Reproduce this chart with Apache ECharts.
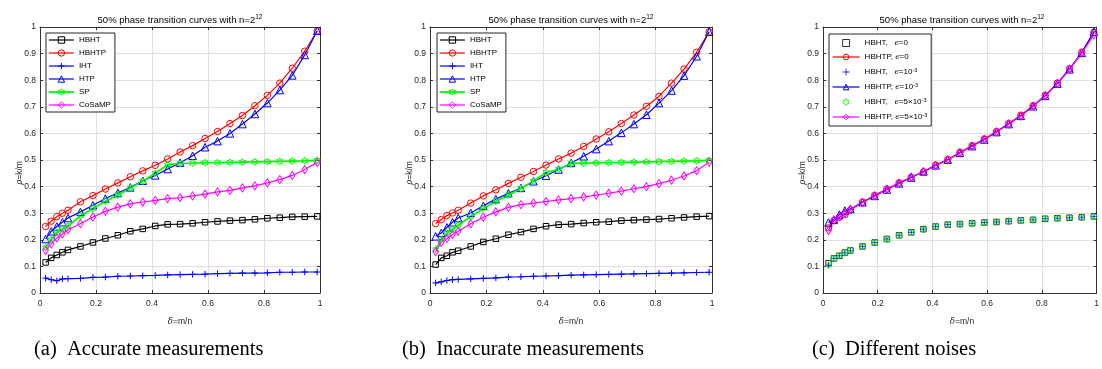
<!DOCTYPE html>
<html>
<head>
<meta charset="utf-8">
<script src="https://cdn.jsdelivr.net/npm/echarts@6/dist/echarts.min.js"></script>
<style>
  html, body { margin: 0; padding: 0; background: #fff; }
  #chart { width: 1102px; height: 369px; }
</style>
</head>
<body>
<div id="chart"></div>
<script>
// Undersampling ratio delta = m/n at which each phase transition was measured
const delta = [0.02, 0.04, 0.06, 0.08, 0.1, 0.1445, 0.189, 0.2335, 0.278, 0.3225, 0.367, 0.4115, 0.456,
  0.5005, 0.545, 0.5895, 0.634, 0.6785, 0.723, 0.7675, 0.812, 0.8565, 0.901, 0.9455, 0.99];

// (a) accurate measurements: rho = k/m on the 50% success curve
const accHBHT   = [0.115, 0.132, 0.143, 0.153, 0.162, 0.175, 0.19, 0.205, 0.217, 0.232, 0.241, 0.252, 0.258, 0.259, 0.262, 0.266, 0.269, 0.272, 0.274, 0.277, 0.281, 0.283, 0.286, 0.287, 0.288];
const accHBHTP  = [0.25, 0.27, 0.287, 0.3, 0.311, 0.343, 0.366, 0.391, 0.414, 0.437, 0.459, 0.48, 0.504, 0.53, 0.554, 0.581, 0.607, 0.637, 0.667, 0.704, 0.743, 0.789, 0.845, 0.909, 0.985];
const accIHT    = [0.056, 0.05, 0.046, 0.053, 0.054, 0.055, 0.059, 0.06, 0.063, 0.064, 0.065, 0.066, 0.068, 0.069, 0.07, 0.071, 0.073, 0.074, 0.075, 0.075, 0.076, 0.078, 0.078, 0.079, 0.079];
const accHTP    = [0.203, 0.232, 0.25, 0.266, 0.282, 0.305, 0.33, 0.355, 0.376, 0.397, 0.422, 0.442, 0.466, 0.49, 0.516, 0.548, 0.571, 0.6, 0.635, 0.673, 0.714, 0.763, 0.818, 0.895, 0.986];
const accSP     = [0.17, 0.2, 0.228, 0.24, 0.252, 0.29, 0.318, 0.345, 0.368, 0.395, 0.42, 0.45, 0.482, 0.487, 0.488, 0.49, 0.49, 0.491, 0.492, 0.493, 0.494, 0.495, 0.496, 0.497, 0.499];
const accCoSaMP = [0.16, 0.184, 0.207, 0.222, 0.238, 0.261, 0.286, 0.307, 0.323, 0.335, 0.342, 0.348, 0.355, 0.358, 0.365, 0.372, 0.38, 0.386, 0.395, 0.403, 0.414, 0.426, 0.442, 0.464, 0.491];

// (b) inaccurate measurements
const inaHBHT   = [0.107, 0.132, 0.14, 0.153, 0.159, 0.175, 0.192, 0.204, 0.219, 0.229, 0.241, 0.251, 0.257, 0.259, 0.263, 0.266, 0.268, 0.272, 0.274, 0.276, 0.278, 0.281, 0.284, 0.287, 0.289];
const inaHBHTP  = [0.261, 0.276, 0.291, 0.301, 0.311, 0.338, 0.365, 0.388, 0.412, 0.435, 0.457, 0.481, 0.504, 0.526, 0.551, 0.579, 0.606, 0.637, 0.669, 0.702, 0.739, 0.789, 0.842, 0.905, 0.982];
const inaIHT    = [0.038, 0.042, 0.047, 0.05, 0.051, 0.053, 0.055, 0.057, 0.06, 0.061, 0.063, 0.064, 0.065, 0.067, 0.068, 0.069, 0.07, 0.071, 0.072, 0.073, 0.074, 0.075, 0.076, 0.077, 0.078];
const inaHTP    = [0.213, 0.226, 0.247, 0.266, 0.282, 0.301, 0.328, 0.353, 0.375, 0.395, 0.42, 0.441, 0.464, 0.489, 0.514, 0.541, 0.571, 0.602, 0.635, 0.67, 0.714, 0.761, 0.817, 0.89, 0.982];
const inaSP     = [0.163, 0.2, 0.225, 0.24, 0.255, 0.288, 0.318, 0.345, 0.368, 0.393, 0.42, 0.453, 0.465, 0.487, 0.488, 0.489, 0.49, 0.491, 0.492, 0.493, 0.494, 0.495, 0.496, 0.497, 0.499];
const inaCoSaMP = [0.155, 0.19, 0.205, 0.22, 0.232, 0.26, 0.285, 0.305, 0.322, 0.332, 0.338, 0.344, 0.35, 0.355, 0.361, 0.368, 0.375, 0.383, 0.392, 0.4, 0.411, 0.424, 0.44, 0.46, 0.492];

// (c) different noise levels epsilon = 0, 1e-3, 5e-3
const nzHBHT0  = [0.112, 0.13, 0.14, 0.152, 0.16, 0.175, 0.19, 0.203, 0.217, 0.228, 0.24, 0.25, 0.257, 0.259, 0.262, 0.265, 0.267, 0.27, 0.273, 0.275, 0.279, 0.281, 0.283, 0.285, 0.288];
const nzHBHT1  = [0.105, 0.13, 0.14, 0.151, 0.159, 0.175, 0.19, 0.203, 0.217, 0.228, 0.24, 0.25, 0.257, 0.259, 0.262, 0.265, 0.267, 0.27, 0.273, 0.275, 0.279, 0.281, 0.283, 0.285, 0.288];
const nzHBHT5  = [0.105, 0.129, 0.14, 0.151, 0.16, 0.175, 0.19, 0.202, 0.216, 0.228, 0.24, 0.25, 0.257, 0.259, 0.262, 0.265, 0.267, 0.27, 0.273, 0.275, 0.279, 0.281, 0.283, 0.285, 0.288];
const nzHBHTP0 = [0.245, 0.272, 0.285, 0.295, 0.312, 0.342, 0.367, 0.391, 0.414, 0.435, 0.455, 0.481, 0.502, 0.529, 0.554, 0.579, 0.607, 0.637, 0.668, 0.704, 0.743, 0.789, 0.843, 0.905, 0.98];
const nzHBHTP1 = [0.265, 0.275, 0.295, 0.31, 0.316, 0.341, 0.365, 0.389, 0.412, 0.434, 0.457, 0.48, 0.501, 0.527, 0.552, 0.577, 0.605, 0.635, 0.666, 0.702, 0.741, 0.787, 0.841, 0.903, 0.982];
const nzHBHTP5 = [0.235, 0.275, 0.287, 0.3, 0.314, 0.34, 0.366, 0.39, 0.413, 0.436, 0.456, 0.479, 0.501, 0.528, 0.553, 0.578, 0.606, 0.636, 0.666, 0.703, 0.742, 0.788, 0.842, 0.902, 0.97];

// Axis ticks
const xTicks = [0, 0.2, 0.4, 0.6, 0.8, 1];
const yTicks = [0, 0.1, 0.2, 0.3, 0.4, 0.5, 0.6, 0.7, 0.8, 0.9, 1];

const algNames = ['HBHT', 'HBHTP', 'IHT', 'HTP', 'SP', 'CoSaMP'];
const noiseLabels = [
  'HBHT,   {e|ϵ}=0',
  'HBHTP, {e|ϵ}=0',
  'HBHT,   {e|ϵ}=10{s|-3}',
  'HBHTP, {e|ϵ}=10{s|-3}',
  'HBHT,   {e|ϵ}=5×10{s|-3}',
  'HBHTP, {e|ϵ}=5×10{s|-3}'
];
const captions = ['(a)  Accurate measurements', '(b)  Inaccurate measurements', '(c)  Different noises'];

// Marker shapes
const SQUARE = 'path://M0,0L10,0L10,10L0,10Z';
const PLUS = 'path://M0,-10L0,10M-10,0L10,0';
const HEXAGRAM = 'path://M0,-10L2.89,-5L8.66,-5L5.77,0L8.66,5L2.89,5L0,10L-2.89,5L-8.66,5L-5.77,0L-8.66,-5L-2.89,-5Z';

const look = {
  HBHT:   { color: '#000000', symbol: SQUARE, size: 5.5, width: 1.2 },
  HBHTP:  { color: '#ff0000', symbol: 'circle', size: 6.5, width: 1.2 },
  IHT:    { color: '#0000ff', symbol: PLUS, size: 6.5, width: 1.2 },
  HTP:    { color: '#0000ff', symbol: 'triangle', size: 7.5, width: 1.2 },
  SP:     { color: '#00ff00', symbol: HEXAGRAM, size: 7, width: 1.8 },
  CoSaMP: { color: '#ff00ff', symbol: 'diamond', size: [5.5, 8], width: 1.2 }
};

// Plot boxes, legend anchors and caption anchors for the three sub-figures
const panels = [
  { left: 40, right: 782, legendLeft: 46, captionLeft: 34 },
  { left: 430, right: 390, legendLeft: 437, captionLeft: 402 },
  { left: 823, right: 1, legendLeft: 829, captionLeft: 812 }
];
const plotTop = 27, plotBottom = 76;

const pts = ys => delta.map((d, i) => [d, ys[i]]);

function lineSeries(name, ys, st, gi, showLine) {
  return {
    type: showLine ? 'line' : 'scatter',
    name: name,
    xAxisIndex: 2 * gi,
    yAxisIndex: 2 * gi,
    data: pts(ys),
    symbol: st.symbol,
    symbolSize: st.size,
    symbolKeepAspect: true,
    showSymbol: true,
    itemStyle: { color: 'rgba(255,255,255,0)', borderColor: st.color, borderWidth: 1 },
    lineStyle: { color: st.color, width: st.width },
    emphasis: { disabled: true },
    animation: false,
    z: 3
  };
}

const series = [];
const accSets = [accHBHT, accHBHTP, accIHT, accHTP, accSP, accCoSaMP];
const inaSets = [inaHBHT, inaHBHTP, inaIHT, inaHTP, inaSP, inaCoSaMP];
algNames.forEach((n, k) => series.push(lineSeries(n, accSets[k], look[n], 0, true)));
algNames.forEach((n, k) => series.push(lineSeries(n, inaSets[k], look[n], 1, true)));

const noiseKeys = ['n0', 'p0', 'n1', 'p1', 'n5', 'p5'];
series.push(lineSeries('n0', nzHBHT0, look.HBHT, 2, false));
series.push(lineSeries('p0', nzHBHTP0, look.HBHTP, 2, true));
series.push(lineSeries('n1', nzHBHT1, look.IHT, 2, false));
series.push(lineSeries('p1', nzHBHTP1, look.HTP, 2, true));
series.push(lineSeries('n5', nzHBHT5, look.SP, 2, false));
series.push(lineSeries('p5', nzHBHTP5, look.CoSaMP, 2, true));

const axisColor = '#333333';
const sans = 'Liberation Sans, Arial, sans-serif';
const labelFont = { fontFamily: sans, fontSize: 8.5, color: '#262626' };

const grid = [], xAxis = [], yAxis = [], legend = [], graphic = [];
panels.forEach((p, i) => {
  grid.push({ left: p.left, right: p.right, top: plotTop, bottom: plotBottom, containLabel: false });
  xAxis.push({
    type: 'value', gridIndex: i, min: 0, max: 1, interval: 0.2, position: 'bottom',
    axisLine: { show: true, lineStyle: { color: axisColor, width: 1 } },
    axisTick: { show: true, inside: true, length: 3, lineStyle: { color: axisColor } },
    axisLabel: Object.assign({ margin: 6, formatter: v => String(xTicks.find(t => Math.abs(t - v) < 1e-9) ?? v) }, labelFont),
    splitLine: { show: true, lineStyle: { color: '#e0e0e0', width: 1 } }
  });
  xAxis.push({
    type: 'value', gridIndex: i, min: 0, max: 1, interval: 0.2, position: 'top',
    axisLine: { show: true, onZero: false, lineStyle: { color: axisColor, width: 1 } },
    axisTick: { show: true, inside: true, length: 3, lineStyle: { color: axisColor } },
    axisLabel: { show: false }, splitLine: { show: false }
  });
  yAxis.push({
    type: 'value', gridIndex: i, min: 0, max: 1, interval: 0.1, position: 'left',
    axisLine: { show: true, onZero: false, lineStyle: { color: axisColor, width: 1 } },
    axisTick: { show: true, inside: true, length: 3, lineStyle: { color: axisColor } },
    axisLabel: Object.assign({ margin: 4, formatter: v => String(yTicks.find(t => Math.abs(t - v) < 1e-9) ?? v) }, labelFont),
    splitLine: { show: true, lineStyle: { color: '#e0e0e0', width: 1 } }
  });
  yAxis.push({
    type: 'value', gridIndex: i, min: 0, max: 1, interval: 0.1, position: 'right',
    axisLine: { show: true, onZero: false, lineStyle: { color: axisColor, width: 1 } },
    axisTick: { show: true, inside: true, length: 3, lineStyle: { color: axisColor } },
    axisLabel: { show: false }, splitLine: { show: false }
  });

  const plotW = 1102 - p.left - p.right;
  const cx = p.left + plotW / 2;

  // Panel title with superscript exponent
  graphic.push({
    type: 'text', x: cx, y: 20, z: 100,
    style: {
      text: '50% phase transition curves with n=2{s|12}',
      fontFamily: sans, fontSize: 9.5, fill: '#000',
      align: 'center', verticalAlign: 'middle',
      rich: { s: { fontSize: 6.5, verticalAlign: 'bottom', padding: [0, 0, 5, 0], fontFamily: sans } }
    }
  });
  // Axis names
  graphic.push({
    type: 'text', x: p.left - 20, y: 173, rotation: Math.PI / 2, z: 100,
    style: {
      text: '{i|ρ}=k/m', fontFamily: sans, fontSize: 8.5, fill: '#262626',
      align: 'center', verticalAlign: 'middle',
      rich: { i: { fontStyle: 'italic', fontSize: 8.5, fontFamily: 'DejaVu Serif, serif' } }
    }
  });
  graphic.push({
    type: 'text', x: cx, y: 322, z: 100,
    style: {
      text: '{i|δ}=m/n', fontFamily: sans, fontSize: 8.5, fill: '#262626',
      align: 'center', verticalAlign: 'middle',
      rich: { i: { fontStyle: 'italic', fontSize: 8.5, fontFamily: 'DejaVu Serif, serif' } }
    }
  });
  // Sub-figure caption
  graphic.push({
    type: 'text', x: p.captionLeft, y: 350, z: 100,
    style: {
      text: captions[i], fontFamily: 'Liberation Serif, Times New Roman, serif', fontSize: 20.5, fill: '#000',
      align: 'left', verticalAlign: 'middle'
    }
  });
});

const legendBase = {
  orient: 'vertical', top: 33,
  backgroundColor: '#fff', borderColor: '#262626', borderWidth: 1,
  padding: [3, 4, 3, 2],
  itemWidth: 25, itemHeight: 8, itemGap: 5,
  selectedMode: false,
  textStyle: { fontFamily: sans, fontSize: 8, color: '#000' },
  itemStyle: { borderWidth: 1 },
  lineStyle: { width: 'inherit' }
};
legend.push(Object.assign({}, legendBase, { left: panels[0].legendLeft, data: algNames }));
legend.push(Object.assign({}, legendBase, { left: panels[1].legendLeft, data: algNames }));
legend.push(Object.assign({}, legendBase, {
  left: panels[2].legendLeft, top: 34, itemWidth: 27, itemHeight: 7, itemGap: 6, padding: [5, 4, 5, 3],
  data: noiseKeys,
  formatter: name => noiseLabels[noiseKeys.indexOf(name)],
  textStyle: {
    fontFamily: sans, fontSize: 8, color: '#000',
    rich: {
      e: { fontStyle: 'italic', fontFamily: 'DejaVu Serif, serif', fontSize: 8 },
      s: { fontSize: 5.5, verticalAlign: 'bottom', padding: [0, 0, 4, 0] }
    }
  }
}));

const chart = echarts.init(document.getElementById('chart'), null, { renderer: 'canvas' });
chart.setOption({
  animation: false,
  backgroundColor: '#ffffff',
  grid, xAxis, yAxis, legend, series, graphic
});
</script>
</body>
</html>
